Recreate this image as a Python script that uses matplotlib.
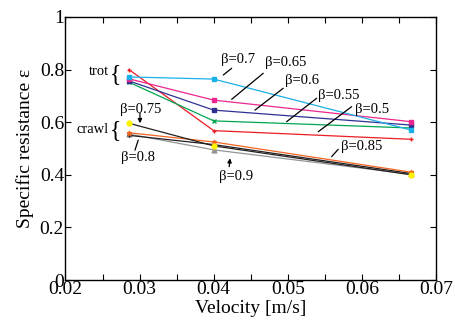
import matplotlib
matplotlib.use("Agg")
import matplotlib.pyplot as plt

plt.rcParams['font.family'] = ['Liberation Serif', 'DejaVu Serif']

velocity = [0.2 / 7, 0.2 / 5, 0.2 / 3]

x_ticks = [0.02, 0.03, 0.04, 0.05, 0.06, 0.07]
x_minor = [0.025, 0.035, 0.045, 0.055, 0.065]
x_tick_labels = ["0.02", "0.03", "0.04", "0.05", "0.06", "0.07"]
y_ticks = [0, 0.2, 0.4, 0.6, 0.8, 1.0]
y_tick_labels = ["0", "0.2", "0.4", "0.6", "0.8", "1"]

trot_labels = ["β=0.5", "β=0.55", "β=0.6", "β=0.65", "β=0.7"]
trot_values = [
    [0.800, 0.568, 0.535],
    [0.752, 0.605, 0.578],
    [0.757, 0.646, 0.589],
    [0.765, 0.684, 0.602],
    [0.772, 0.764, 0.570],
]
trot_colors = ["#ed1c24", "#00a651", "#2e3192", "#ec268f", "#1ab0e8"]
trot_markers = ["+", "x", "s", "s", "s"]

crawl_labels = ["β=0.9", "β=0.8", "β=0.85", "β=0.75"]
crawl_values = [
    [0.555, 0.495, 0.402],
    [0.550, 0.515, 0.405],
    [0.560, 0.525, 0.410],
    [0.596, 0.510, 0.400],
]
crawl_colors = ["#939598", "#231f20", "#f26522", "#231f20"]
crawl_marker_colors = ["#939598", "#231f20", "#f26522", "#fff200"]
crawl_markers = ["^", "+", "*", "o"]

fig = plt.figure(figsize=(4.56, 3.33), dpi=100)
ax = fig.add_axes([0.1436, 0.159, 0.8124, 0.790])

for vals, c, m in zip(trot_values, trot_colors, trot_markers):
    ax.plot(velocity, vals, color=c, lw=0.9, marker=m, ms=3.5, mew=1.0,
            mfc=c, mec=c)
for vals, c, mc, m in zip(crawl_values, crawl_colors, crawl_marker_colors, crawl_markers):
    ax.plot(velocity, vals, color=c, lw=0.9, marker=m, ms=3.5, mew=1.0,
            mfc=mc, mec=mc)

ax.set_xlim(0.02, 0.07)
ax.set_ylim(0, 1)
ax.set_xticks(x_ticks)
ax.set_xticks(x_minor, minor=True)
ax.set_xticklabels(x_tick_labels)
ax.set_yticks(y_ticks)
ax.set_yticklabels(y_tick_labels)
ax.tick_params(which='both', direction='in', top=True, right=True,
               labelsize=14, width=0.8, pad=1, length=4)
for s in ax.spines.values():
    s.set_linewidth(1.0)

ax.set_xlabel("Velocity [m/s]", fontsize=14, labelpad=1)
ax.set_ylabel("Specific resistance ε", fontsize=14, labelpad=4)

# annotations: (label, text xy, line start, line end, arrow)
ann = [
    ("β=0.7", (0.04328, 0.840), (0.04243, 0.805), (0.0413, 0.7795), False),
    ("β=0.65", (0.04976, 0.827), (0.04669, 0.786), (0.04243, 0.687), False),
    ("β=0.6", (0.05198, 0.760), (0.04939, 0.729), (0.04557, 0.646), False),
    ("β=0.55", (0.05691, 0.703), (0.05390, 0.691), (0.04985, 0.602), False),
    ("β=0.5", (0.06143, 0.650), (0.05862, 0.659), (0.05412, 0.564), False),
    ("β=0.85", (0.06001, 0.5095), (0.05681, 0.497), (0.05592, 0.469), False),
    ("β=0.75", (0.03019, 0.650), (0.03005, 0.634), (0.03005, 0.596), True),
    ("β=0.8", (0.02978, 0.464), (0.02938, 0.494), (0.02982, 0.532), False),
    ("β=0.9", (0.04308, 0.395), (0.04210, 0.431), (0.04220, 0.463), True),
]
for lab, txy, p0, p1, arrow in ann:
    ax.text(txy[0], txy[1], lab, fontsize=10.5, ha='center', va='center')
    style = '-|>' if arrow else '-'
    ax.annotate("", xy=p1, xytext=p0,
                arrowprops=dict(arrowstyle=style, color='black', lw=0.9,
                                shrinkA=0, shrinkB=0, mutation_scale=6))

ax.text(0.02452, 0.791, "trot", fontsize=10.5, ha='center', va='center')
ax.text(0.02371, 0.574, "crawl", fontsize=10.5, ha='center', va='center')
ax.text(0.0268, 0.783, "{", fontsize=17, ha='center', va='center',
        fontweight='light')
ax.text(0.0268, 0.568, "{", fontsize=17, ha='center', va='center',
        fontweight='light')

fig.savefig("out.png", dpi=100)
